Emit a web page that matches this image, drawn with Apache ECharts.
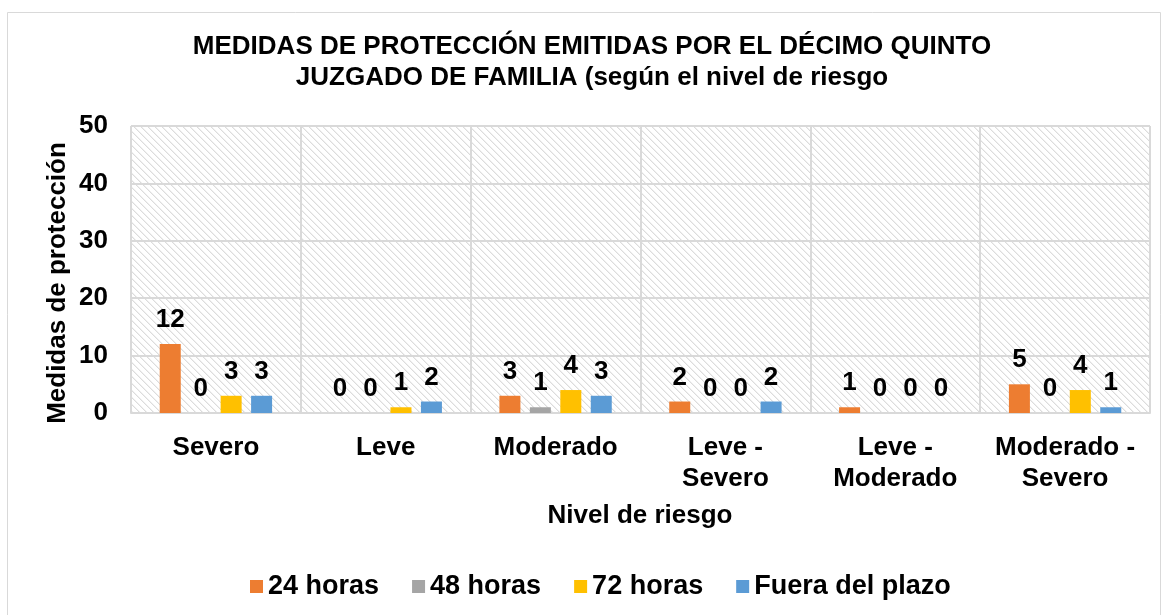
<!DOCTYPE html>
<html>
<head>
<meta charset="utf-8">
<script src="https://cdn.jsdelivr.net/npm/echarts@6/dist/echarts.min.js"></script>
<style>html,body{margin:0;padding:0;background:#fff;}#chart{width:1168px;height:615px;}</style>
</head>
<body>
<div id="chart"></div>
<script>
const categories = ['Severo', 'Leve', 'Moderado', 'Leve -\nSevero', 'Leve -\nModerado', 'Moderado -\nSevero'];
const seriesNames = ['24 horas', '48 horas', '72 horas', 'Fuera del plazo'];
const horas24 = [12, 0, 3, 2, 1, 5];
const horas48 = [0, 0, 1, 0, 0, 0];
const horas72 = [3, 1, 4, 0, 0, 4];
const fueraPlazo = [3, 2, 3, 2, 0, 1];
const yTicks = [0, 10, 20, 30, 40, 50];
const titleLines = ['MEDIDAS DE PROTECCIÓN EMITIDAS POR EL DÉCIMO QUINTO', 'JUZGADO DE FAMILIA (según el nivel de riesgo'];
const yName = 'Medidas de protección';
const xName = 'Nivel de riesgo';

const FONT = "'Liberation Sans', Arial, sans-serif";
const colors = ['#ED7D31', '#A5A5A5', '#FFC000', '#5B9BD5'];

// hatch pattern
const tile = document.createElement('canvas');
const S = 7;
tile.width = S; tile.height = S;
const tc = tile.getContext('2d');
tc.fillStyle = '#ffffff';
tc.fillRect(0, 0, S, S);
for (let i = 0; i < S; i++) {
  tc.fillStyle = '#dcdcdc';
  tc.fillRect(i, i, 1, 1);
  tc.fillStyle = '#f0f0f0';
  tc.fillRect((i + 1) % S, i, 1, 1);
}

const chart = echarts.init(document.getElementById('chart'), null, {renderer: 'canvas'});
const dataArrays = [horas24, horas48, horas72, fueraPlazo];

const series = dataArrays.map((arr, i) => ({
  name: seriesNames[i],
  type: 'bar',
  data: arr,
  barWidth: 21,
  barGap: '45%',
  itemStyle: {color: colors[i]},
  label: {
    show: true,
    position: 'top',
    distance: 11,
    color: '#000',
    fontFamily: FONT,
    fontWeight: 'bold',
    fontSize: 26
  }
}));

chart.setOption({
  animation: false,
  backgroundColor: '#ffffff',
  color: colors,
  grid: {
    left: 131, right: 18, top: 126, bottom: 202,
    show: true,
    backgroundColor: {image: tile, repeat: 'repeat'},
    borderWidth: 0
  },
  legend: {
    left: 245, top: 568,
    itemWidth: 13, itemHeight: 13, itemGap: 33,
    icon: 'rect',
    data: seriesNames,
    textStyle: {fontFamily: FONT, fontWeight: 'bold', fontSize: 27, color: '#000'}
  },
  xAxis: {
    type: 'category',
    data: categories,
    axisLine: {show: true, lineStyle: {color: '#d9d9d9', width: 2}},
    axisTick: {show: false},
    splitLine: {show: true, interval: 0, lineStyle: {color: '#d9d9d9', width: 2}},
    axisLabel: {
      interval: 0, margin: 19,
      fontFamily: FONT, fontWeight: 'bold', fontSize: 26, color: '#000', lineHeight: 31
    }
  },
  yAxis: {
    type: 'value',
    min: yTicks[0], max: yTicks[yTicks.length - 1], interval: 10,
    axisLine: {show: false},
    axisTick: {show: false},
    splitLine: {show: true, lineStyle: {color: '#d9d9d9', width: 2}},
    axisLabel: {margin: 23, fontFamily: FONT, fontWeight: 'bold', fontSize: 26, color: '#000'}
  },
  graphic: [
    {type: 'rect', shape: {x: 7.5, y: 12.5, width: 1153, height: 620}, style: {fill: 'none', stroke: '#d9d9d9', lineWidth: 1}, silent: true, z: -10},
    {type: 'text', x: 592, y: 47, style: {text: titleLines[0], align: 'center', verticalAlign: 'middle', font: "bold 26px " + FONT, fill: '#000'}},
    {type: 'text', x: 592, y: 78, style: {text: titleLines[1], align: 'center', verticalAlign: 'middle', font: "bold 26px " + FONT, fill: '#000'}},
    {type: 'text', x: 58, y: 283, rotation: Math.PI / 2, style: {text: yName, align: 'center', verticalAlign: 'middle', font: "bold 26px " + FONT, fill: '#000'}},
    {type: 'text', x: 640, y: 516, style: {text: xName, align: 'center', verticalAlign: 'middle', font: "bold 26px " + FONT, fill: '#000'}}
  ],
  series: series
});
</script>
</body>
</html>
